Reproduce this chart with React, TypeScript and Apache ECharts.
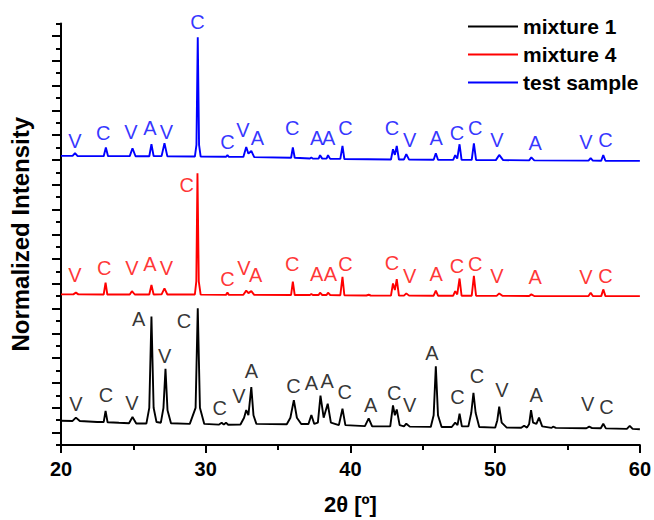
import React, { useEffect, useRef } from "react";
import * as echarts from "echarts";

// XRD patterns: [2θ (deg), normalized intensity (offset, arbitrary units)]
const mixture1: number[][] = [
  [20, 19.6], [20.8, 19.4], [21.03, 22.1], [21.3, 19.3], [22.5, 18.6], [22.95, 18.5], [23.08, 27.4], [23.22, 18.3],
  [24.0, 17.9], [24.7, 17.6], [24.94, 22.6], [25.2, 17.4], [25.9, 17.3], [26.1, 30], [26.25, 103.6], [26.4, 30],
  [26.6, 18.5], [26.9, 18], [27.08, 30], [27.22, 61.4], [27.36, 28], [27.6, 17.6], [28.9, 17], [29.3, 30],
  [29.45, 110.3], [29.6, 30], [29.9, 17], [30.9, 16.4], [31.1, 18], [31.25, 16.4], [31.4, 18], [31.55, 16.3],
  [32.4, 16.5], [32.65, 22], [32.8, 28.2], [32.95, 24], [33.15, 46.7], [33.3, 24], [33.5, 17], [35.6, 16.7],
  [35.85, 22], [36.09, 36.2], [36.3, 22], [36.6, 17], [37.1, 17], [37.3, 24.2], [37.5, 17], [37.75, 18],
  [37.93, 39.9], [38.15, 22], [38.43, 33.3], [38.65, 18], [39.2, 16], [39.45, 29.3], [39.65, 16], [41.0, 15.2],
  [41.26, 21.5], [41.5, 15], [42.75, 15], [42.94, 31.9], [43.07, 24], [43.2, 28.7], [43.4, 16], [43.7, 15],
  [43.86, 17.2], [44.1, 14.8], [45.55, 14.6], [45.75, 24], [45.9, 63.5], [46.05, 24], [46.3, 14.5], [47.0, 14.5],
  [47.24, 18], [47.4, 16], [47.54, 25.3], [47.7, 15], [48.15, 15], [48.35, 26], [48.5, 42.1], [48.65, 26],
  [48.9, 14.5], [50.0, 14], [50.15, 20], [50.28, 30.9], [50.45, 18], [50.8, 14], [51.8, 13.9], [52.0, 15.6],
  [52.2, 14], [52.35, 17], [52.48, 28.2], [52.62, 18], [52.85, 17], [53.03, 22.1], [53.25, 15], [53.9, 13.8],
  [54.0, 14.8], [54.2, 13.8], [56.3, 13.5], [56.5, 14.8], [56.7, 13.6], [57.3, 13.5], [57.47, 17.2], [57.65, 13.4],
  [59.1, 13], [59.3, 15.4], [59.5, 13], [60, 12.7],
];

const mixture4: number[][] = [
  [20, 121.5], [20.85, 121.5], [21.03, 122.9], [21.2, 121.5], [22.95, 121.4], [23.08, 130.9], [23.2, 121.4],
  [24.75, 121.4], [24.9, 124.1], [25.1, 121.4], [26.1, 121.4], [26.25, 129], [26.4, 121.4], [26.95, 121.5],
  [27.15, 126.3], [27.35, 121.4], [29.25, 121.4], [29.35, 132], [29.43, 219.1], [29.52, 132], [29.65, 121.3],
  [31.4, 121.1], [31.5, 122.9], [31.6, 121.1], [32.6, 121.2], [32.8, 124.5], [32.95, 122.5], [33.15, 124.1],
  [33.35, 121.1], [35.9, 121], [36.02, 131.7], [36.15, 121], [37.2, 121], [37.3, 121.8], [37.4, 121], [37.8, 121],
  [37.9, 122.9], [38.05, 121], [38.35, 121], [38.45, 122.9], [38.6, 121], [39.3, 120.8], [39.45, 135.7],
  [39.58, 120.8], [41.1, 120.6], [41.26, 121.2], [41.4, 120.6], [42.8, 120.5], [42.94, 130.3], [43.07, 125],
  [43.2, 133.8], [43.35, 120.5], [43.7, 120.5], [43.86, 122.3], [44.05, 120.5], [45.75, 120.4], [45.9, 124.5],
  [46.05, 120.4], [47.1, 120.4], [47.24, 124.1], [47.38, 121.5], [47.54, 134.3], [47.68, 120.4], [48.38, 120.4],
  [48.53, 136.5], [48.68, 120.4], [50.1, 120.3], [50.28, 122.3], [50.5, 120.3], [52.35, 120.2], [52.5, 121.5],
  [52.7, 120.2], [56.45, 120.1], [56.6, 122.9], [56.75, 120.1], [57.33, 120.1], [57.47, 125.5], [57.62, 120.1],
  [60, 120.1],
];

const testSample: number[][] = [
  [20, 233.2], [20.8, 233.2], [20.97, 235.4], [21.15, 233.1], [22.95, 233], [23.1, 240], [23.25, 233],
  [24.75, 233], [24.94, 239.4], [25.15, 232.9], [26.1, 232.9], [26.25, 242.6], [26.4, 233], [26.95, 233],
  [27.15, 243.4], [27.35, 232.8], [29.25, 232.7], [29.36, 242], [29.45, 329], [29.54, 242], [29.65, 232.7],
  [31.4, 232.5], [31.5, 233.8], [31.6, 232.4], [32.6, 232.4], [32.8, 240.4], [32.95, 235], [33.15, 237.2],
  [33.35, 232.2], [35.9, 231.7], [36.02, 240], [36.15, 231.7], [37.2, 231.1], [37.3, 232], [37.4, 231],
  [37.8, 231], [37.9, 233.8], [38.05, 231], [38.35, 231], [38.45, 233.8], [38.6, 230.8], [39.3, 230.8],
  [39.45, 241.2], [39.58, 230.7], [42.8, 230.3], [42.94, 238.6], [43.07, 234], [43.2, 241.2], [43.35, 230.3],
  [43.7, 230.3], [43.86, 234.6], [44.05, 230.2], [45.75, 230.1], [45.9, 235.4], [46.05, 230.1], [47.1, 230],
  [47.24, 233.8], [47.38, 231], [47.54, 242.6], [47.68, 230], [48.38, 230], [48.53, 243.4], [48.68, 229.9],
  [50.05, 229.8], [50.28, 234], [50.55, 229.8], [52.35, 229.6], [52.5, 232], [52.7, 229.6], [56.45, 229.4],
  [56.6, 231.4], [56.75, 229.4], [57.33, 229.3], [57.47, 233.8], [57.62, 229.3], [60, 229.2],
];

// Phase labels: [text, 2θ, intensity]
const mixture1Labels: [string, number, number][] = [
  ["V", 21.03, 33.3], ["C", 23.1, 40.7], ["V", 24.9, 34.1], ["A", 25.36, 101.5], ["V", 27.17, 71.8],
  ["C", 28.5, 99.8], ["C", 30.97, 30.1], ["V", 32.3, 39.7], ["A", 33.15, 59.7], ["C", 36.07, 47.7],
  ["A", 37.3, 50.1], ["A", 38.4, 51.5], ["C", 39.6, 42.9], ["A", 41.4, 32.5], ["C", 43.03, 42.1],
  ["V", 44.1, 32.5], ["A", 45.63, 74.2], ["C", 47.4, 38.9], ["C", 48.74, 55.7], ["V", 50.46, 44.5],
  ["A", 52.83, 40.5], ["V", 56.4, 33.3], ["C", 57.7, 30.9],
];

const mixture4Labels: [string, number, number][] = [
  ["V", 20.97, 137], ["C", 22.99, 142.4], ["V", 24.9, 142.4], ["A", 26.14, 145.6], ["V", 27.29, 142.4],
  ["C", 28.69, 209.7], ["C", 31.5, 134.3], ["V", 32.64, 142.4], ["A", 33.45, 137.5], ["C", 35.98, 145.6],
  ["A", 37.66, 138.3], ["A", 38.62, 138.3], ["C", 39.66, 145.6], ["C", 42.87, 147.2], ["V", 44.09, 136.7],
  ["A", 45.93, 138.3], ["C", 47.36, 144], ["C", 48.62, 145.6], ["V", 50.12, 136.7], ["A", 52.76, 135.7],
  ["V", 56.28, 135.7], ["C", 57.63, 136.7],
];

const testSampleLabels: [string, number, number][] = [
  ["V", 20.97, 245.3], ["C", 22.92, 251.4], ["V", 24.83, 252.5], ["A", 26.14, 255.4], ["V", 27.29, 252.2],
  ["C", 29.43, 340.9], ["C", 31.5, 244.6], ["V", 32.57, 254], ["A", 33.57, 247.4], ["C", 35.98, 255.4],
  ["A", 37.66, 247.4], ["A", 38.5, 247.4], ["C", 39.66, 255.4], ["C", 42.87, 255.4], ["V", 44.09, 245.8],
  ["A", 45.93, 247.4], ["C", 47.36, 252], ["C", 48.62, 255.4], ["V", 50.12, 245.8], ["A", 52.76, 243.4],
  ["V", 56.28, 244.6], ["C", 57.63, 245.8],
];

const seriesNames = ["mixture 1", "mixture 4", "test sample"];
const seriesColors = ["#000000", "#ff0000", "#0000ff"];
const xTicks = [20, 30, 40, 50, 60];
const yMajorTicks = [10, 30, 50, 70, 90, 110, 130, 150, 170, 190, 210, 230, 250, 270, 290, 310, 330];
const yMinorTicks = [0, 20, 40, 60, 80, 100, 120, 140, 160, 180, 200, 220, 240, 260, 280, 300, 320, 340];

const FONT = "'Liberation Sans', Arial, Helvetica, sans-serif";

export default function App() {
  const ref = useRef<HTMLDivElement>(null);
  useEffect(() => {
    if (!ref.current) return;
    const chart = echarts.init(ref.current, undefined, { renderer: "svg" });
    const lineData = [mixture1, mixture4, testSample];
    const labelData = [mixture1Labels, mixture4Labels, testSampleLabels];
    const lines = lineData.map((d, i) => ({
      type: "line",
      name: seriesNames[i],
      data: d,
      showSymbol: false,
      symbol: "none",
      lineStyle: { color: seriesColors[i], width: 1.9 },
      itemStyle: { color: seriesColors[i] },
      z: 3,
    }));
    const labels = labelData.map((d, i) => ({
      type: "scatter",
      name: seriesNames[i] + " labels",
      data: d.map((l) => ({ name: l[0], value: [l[1], l[2]] })),
      symbolSize: 0,
      clip: false,
      silent: true,
      label: {
        show: true,
        position: "inside",
        formatter: (p: any) => p.name,
        color: seriesColors[i],
        textBorderWidth: 0,
        fontSize: 20,
        fontFamily: FONT,
      },
      z: 4,
    }));
    chart.setOption({
      animation: false,
      backgroundColor: "#ffffff",
      textStyle: { fontFamily: FONT },
      grid: { left: 60, right: 14, top: 23.5, bottom: 72.5, containLabel: false },
      legend: {
        data: seriesNames,
        orient: "vertical",
        left: 463,
        top: 11,
        icon: "rect",
        itemWidth: 50,
        itemHeight: 2,
        itemGap: 7,
        textStyle: { fontSize: 21, fontWeight: "bold", color: "#000", fontFamily: FONT },
      },
      xAxis: {
        type: "value",
        min: 20,
        max: 60,
        interval: 10,
        name: "2θ [º]",
        nameLocation: "middle",
        nameGap: 48,
        nameTextStyle: { fontSize: 22, fontWeight: "bold", color: "#000", fontFamily: FONT },
        axisLine: { onZero: false, lineStyle: { color: "#000", width: 2 } },
        axisTick: { show: true, length: 8, lineStyle: { color: "#000", width: 2 } },
        minorTick: { show: true, splitNumber: 2, length: 5, lineStyle: { color: "#000", width: 2 } },
        axisLabel: {
          fontSize: 20,
          fontWeight: "bold",
          color: "#000",
          margin: 14,
          fontFamily: FONT,
          formatter: (v: number) => (xTicks.includes(v) ? String(v) : ""),
        },
        splitLine: { show: false },
      },
      yAxis: [
        {
          type: "value",
          min: 0,
          max: 340,
          name: "Normalized Intensity",
          nameLocation: "middle",
          nameGap: 29,
          nameTextStyle: { fontSize: 24, fontWeight: "bold", color: "#000", fontFamily: FONT },
          axisLine: { show: true, onZero: false, lineStyle: { color: "#000", width: 2 } },
          axisTick: { show: true, length: 9, customValues: yMajorTicks, lineStyle: { color: "#000", width: 2 } },
          axisLabel: { show: false },
          splitLine: { show: false },
        },
        {
          type: "value",
          min: 0,
          max: 340,
          position: "left",
          offset: 0,
          axisLine: { show: false },
          axisTick: { show: true, length: 5, customValues: yMinorTicks, lineStyle: { color: "#000", width: 2 } },
          axisLabel: { show: false },
          splitLine: { show: false },
        },
      ],
      series: [...lines, ...labels],
    });
    return () => chart.dispose();
  }, []);
  return (
    <div
      ref={ref}
      style={{ position: "fixed", left: 0, top: 0, width: 654, height: 520, background: "#fff" }}
    />
  );
}
